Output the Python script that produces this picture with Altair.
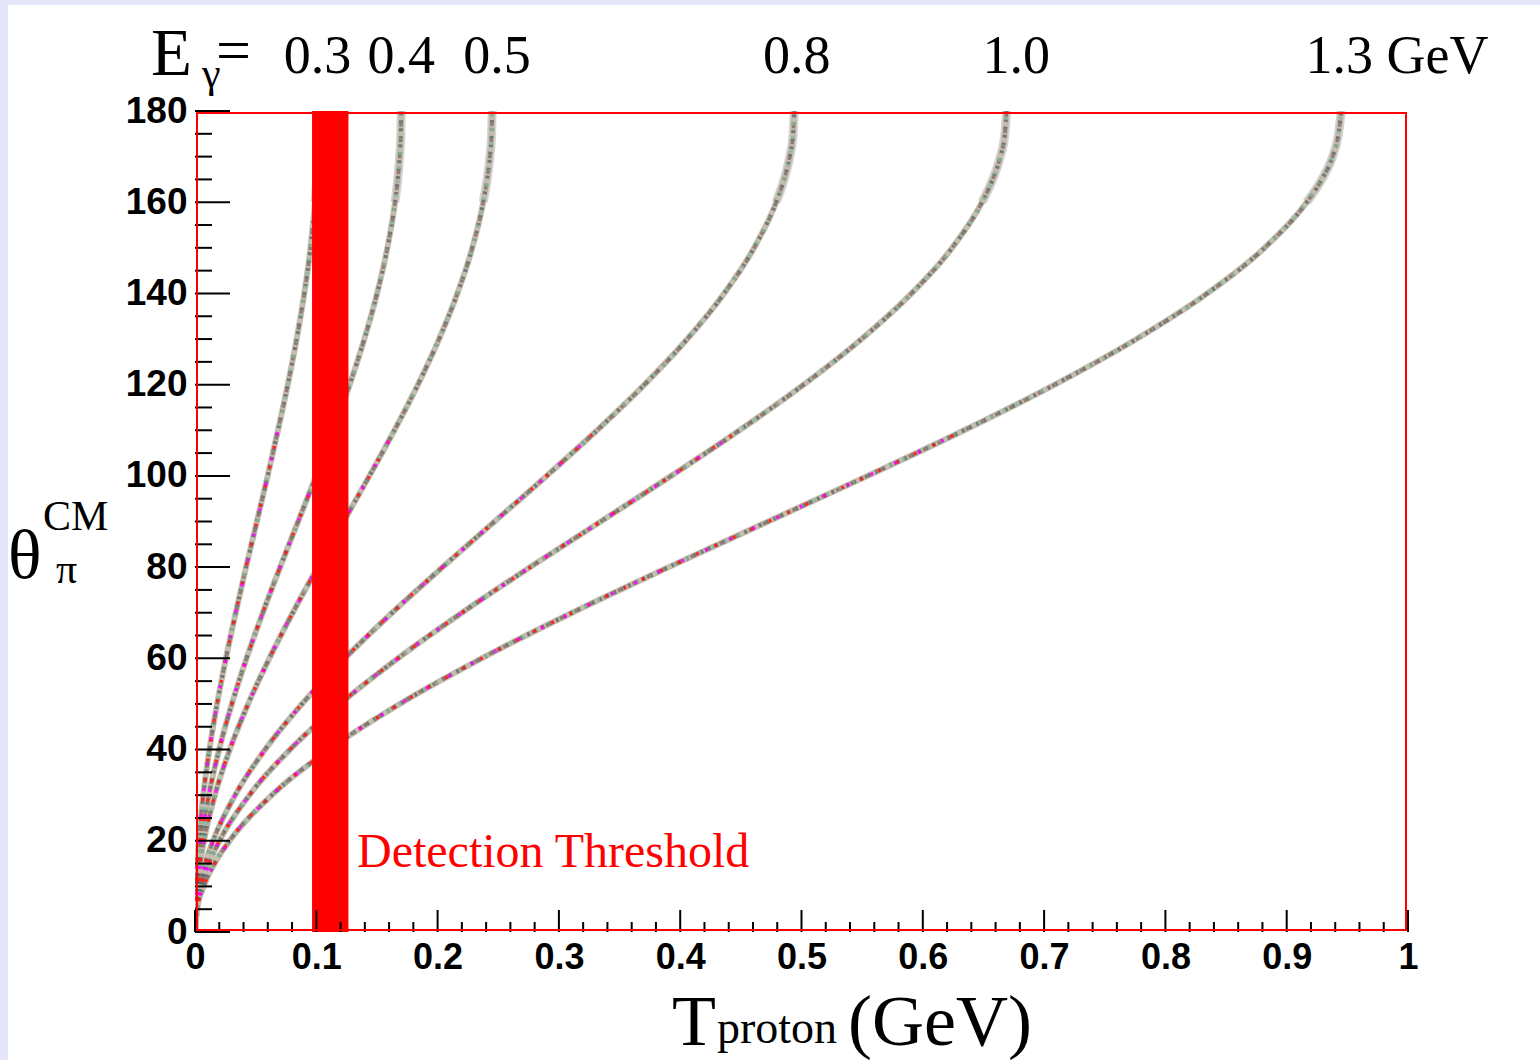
import altair as alt
import pandas as pd

# ---------------- data ----------------
energies = ["0.3", "0.4", "0.5", "0.8", "1.0", "1.3"]

theta_cm = [0, 5, 10, 15, 20, 30, 40, 50, 60, 70, 80, 90, 100, 110, 120,
            130, 140, 150, 160, 165, 170, 175, 180]

t_03 = [0, 0.0002, 0.0008, 0.0017, 0.0031, 0.0068, 0.0119, 0.0182, 0.0255, 0.0336, 0.0421, 0.0510,
        0.0599, 0.0684, 0.0765, 0.0838, 0.0901, 0.0952, 0.0989, 0.1003, 0.1012, 0.1018, 0.1020]
t_04 = [0, 0.0003, 0.0013, 0.0029, 0.0051, 0.0114, 0.0199, 0.0304, 0.0425, 0.0559, 0.0702, 0.0850,
        0.0998, 0.1141, 0.1275, 0.1396, 0.1501, 0.1586, 0.1649, 0.1671, 0.1687, 0.1697, 0.1700]
t_05 = [0, 0.0005, 0.0019, 0.0042, 0.0074, 0.0164, 0.0287, 0.0438, 0.0613, 0.0806, 0.1012, 0.1225,
        0.1438, 0.1644, 0.1838, 0.2012, 0.2163, 0.2286, 0.2376, 0.2408, 0.2431, 0.2445, 0.2450]
t_08 = [0, 0.0009, 0.0038, 0.0084, 0.0149, 0.0331, 0.0578, 0.0882, 0.1235, 0.1625, 0.2041, 0.2470,
        0.2899, 0.3315, 0.3705, 0.4058, 0.4362, 0.4609, 0.4791, 0.4856, 0.4903, 0.4931, 0.4940]
t_10 = [0, 0.0013, 0.0051, 0.0114, 0.0202, 0.0448, 0.0783, 0.1195, 0.1673, 0.2201, 0.2764, 0.3345,
        0.3926, 0.4489, 0.5018, 0.5495, 0.5907, 0.6242, 0.6488, 0.6576, 0.6639, 0.6677, 0.6690]
t_13 = [0, 0.0018, 0.0072, 0.0161, 0.0285, 0.0633, 0.1105, 0.1688, 0.2363, 0.3109, 0.3905, 0.4725,
        0.5545, 0.6341, 0.7088, 0.7762, 0.8345, 0.8817, 0.9165, 0.9289, 0.9378, 0.9427, 0.9450]

curve_t = [t_03, t_04, t_05, t_08, t_10, t_13]

# labels above the curves
top_labels = ["0.3", "0.4", "0.5", "0.8", "1.0", "1.3 GeV"]
top_label_x = [0.101, 0.170, 0.249, 0.496, 0.677, 0.991]

# detection threshold band
band_x0, band_x1 = 0.0965, 0.1265

x_major = [0, 0.1, 0.2, 0.3, 0.4, 0.5, 0.6, 0.7, 0.8, 0.9, 1]
x_minor = [round(i * 0.02, 2) for i in range(51) if i % 5 != 0]
y_major = [0, 20, 40, 60, 80, 100, 120, 140, 160, 180]
y_minor = [v for v in range(0, 181, 5) if v % 20 != 0]

# ---------------- build tables ----------------
rows = []
for e, ts in zip(energies, curve_t):
    for th, t in zip(theta_cm, ts):
        rows.append({"E": e, "T": t, "theta": th})
curves = pd.DataFrame(rows)
curves_low = curves[curves["theta"] <= 110]
curves_top = curves[curves["theta"] >= 160]

W, H = 1213, 821
xs = alt.Scale(domain=[0, 1], nice=False, zero=False)
ys = alt.Scale(domain=[0, 180], nice=False, zero=False)

one = pd.DataFrame({"k": [0]})
SERIF = "Liberation Serif"
SANS = "Liberation Sans"

# white page over lavender background
page = alt.Chart(one).mark_rect(color="white").encode(
    x=alt.value(-187), x2=alt.value(W + 132), y=alt.value(-106), y2=alt.value(H + 128)
)

x_axis = alt.Axis(values=x_major, format="~g", title=None, ticks=False, domain=False, grid=False,
                  labelFont=SANS, labelFontSize=36, labelFontWeight="bold", labelColor="black",
                  labelPadding=8, labelFlush=False, labelOverlap=False, zindex=1)
y_axis = alt.Axis(values=y_major, format="d", title=None, ticks=False, domain=False, grid=False,
                  labelFont=SANS, labelFontSize=37, labelFontWeight="bold", labelColor="black",
                  labelPadding=8, labelFlush=False, labelOverlap=False, zindex=1)

enc = dict(detail="E:N", order="theta:Q")

curve_base = alt.Chart(curves).mark_line(
    strokeWidth=6, color="#c2bba9", opacity=0.95, interpolate="monotone", clip=True
).encode(
    x=alt.X("T:Q", scale=xs, axis=x_axis),
    y=alt.Y("theta:Q", scale=ys, axis=y_axis),
    **enc,
)
curve_top = alt.Chart(curves_top).mark_line(
    strokeWidth=9, color="#cfcfcf", opacity=0.9, interpolate="monotone", clip=True
).encode(x=alt.X("T:Q", scale=xs), y=alt.Y("theta:Q", scale=ys), **enc)
curve_dash = alt.Chart(curves).mark_line(
    strokeWidth=4, color="#525861", opacity=0.7, strokeDash=[3, 5], interpolate="monotone", clip=True
).encode(x=alt.X("T:Q", scale=xs), y=alt.Y("theta:Q", scale=ys), **enc)
curve_dash2 = alt.Chart(curves).mark_line(
    strokeWidth=3.5, color="#86b79c", opacity=0.85, strokeDash=[3, 11], strokeDashOffset=4,
    interpolate="monotone", clip=True
).encode(x=alt.X("T:Q", scale=xs), y=alt.Y("theta:Q", scale=ys), **enc)
curve_dash5 = alt.Chart(curves).mark_line(
    strokeWidth=3.5, color="#8a6a5e", opacity=0.8, strokeDash=[3, 13], strokeDashOffset=11,
    interpolate="monotone", clip=True
).encode(x=alt.X("T:Q", scale=xs), y=alt.Y("theta:Q", scale=ys), **enc)
curve_dash3 = alt.Chart(curves_low).mark_line(
    strokeWidth=3.5, color="#ff1a1a", opacity=0.9, strokeDash=[3, 17], strokeDashOffset=9,
    interpolate="monotone", clip=True
).encode(x=alt.X("T:Q", scale=xs), y=alt.Y("theta:Q", scale=ys), **enc)
curve_dash4 = alt.Chart(curves_low).mark_line(
    strokeWidth=3.5, color="#ff00ff", opacity=0.85, strokeDash=[3, 23], strokeDashOffset=15,
    interpolate="monotone", clip=True
).encode(x=alt.X("T:Q", scale=xs), y=alt.Y("theta:Q", scale=ys), **enc)

band_df = pd.DataFrame({"x0": [band_x0], "x1": [band_x1], "y0": [0], "y1": [180]})
band = alt.Chart(band_df).mark_rect(color="#ff0000").encode(
    x=alt.X("x0:Q", scale=xs), x2="x1", y=alt.Y("y1:Q", scale=ys), y2="y0"
)

# ticks inside the frame
xt_major = alt.Chart(pd.DataFrame({"v": x_major})).mark_rule(color="black", strokeWidth=2).encode(
    x=alt.X("v:Q", scale=xs), y=alt.value(H), y2=alt.value(H - 22)
)
xt_minor = alt.Chart(pd.DataFrame({"v": x_minor})).mark_rule(color="black", strokeWidth=2).encode(
    x=alt.X("v:Q", scale=xs), y=alt.value(H), y2=alt.value(H - 10)
)
yt_major = alt.Chart(pd.DataFrame({"v": y_major})).mark_rule(color="black", strokeWidth=2).encode(
    y=alt.Y("v:Q", scale=ys), x=alt.value(0), x2=alt.value(35)
)
yt_minor = alt.Chart(pd.DataFrame({"v": y_minor})).mark_rule(color="black", strokeWidth=2).encode(
    y=alt.Y("v:Q", scale=ys), x=alt.value(0), x2=alt.value(17)
)

# red inner frame line
red_frame = alt.Chart(one).mark_rect(fill=None, fillOpacity=0, stroke="#ff0000", strokeWidth=2).encode(
    x=alt.value(2), x2=alt.value(W - 2), y=alt.value(2), y2=alt.value(H - 2)
)

# top labels
lab_df = pd.DataFrame({"x": top_label_x, "t": top_labels})
top_text = alt.Chart(lab_df).mark_text(
    font=SERIF, fontSize=54, color="black", align="center", baseline="alphabetic"
).encode(x=alt.X("x:Q", scale=xs), y=alt.value(-38), text="t:N")


def txt(s, x, y, size, color="black", font=SERIF):
    return alt.Chart(one).mark_text(
        text=s, font=font, fontSize=size, color=color, align="left", baseline="alphabetic"
    ).encode(x=alt.value(x), y=alt.value(y))


e_gamma = txt("E", -44, -36, 67)
gamma = txt("γ", 7, -24, 42)
equals = txt("=", 21, -40, 62)

theta_t = txt("θ", -187, 467, 70)
cm_t = txt("CM", -152, 419, 42)
pi_t = txt("π", -139, 472, 42)

t_t = txt("T", 477, 934, 72)
proton_t = txt("proton", 522, 932, 46)
gev_t = txt("(GeV)", 653, 934, 72)

det = txt("Detection Threshold", 162, 756, 48, color="#ff0000")

chart = alt.layer(
    page, curve_top, curve_base, curve_dash, curve_dash2, curve_dash5, curve_dash3, curve_dash4, band,
    xt_major, xt_minor, yt_major, yt_minor,
    red_frame, top_text, e_gamma, gamma, equals, theta_t, cm_t, pi_t, t_t, proton_t, gev_t, det
).properties(
    width=W, height=H,
    autosize=alt.AutoSizeParams(type="none"),
    padding={"left": 195, "top": 111, "right": 132, "bottom": 128},
    background="#e6e6fa",
).configure_view(stroke="black", strokeWidth=2.5)

chart.save("out.html", embed_options={"renderer": "svg", "actions": False})
